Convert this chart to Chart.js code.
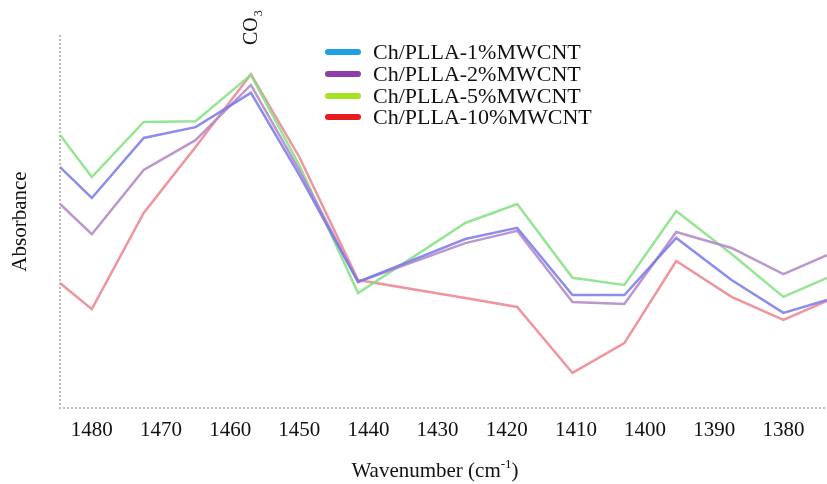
<!DOCTYPE html>
<html lang="en">
<head>
<meta charset="UTF-8">
<title>Absorbance vs wavenumber</title>
<script src="https://cdn.jsdelivr.net/npm/chart.js"></script>
<style>
    html, body { margin: 0; padding: 0; background: #ffffff; }
    #wrap { width: 827px; height: 484px; position: relative; }
</style>
</head>
<body>
<div id="wrap"><canvas id="ftir"></canvas></div>
<script>
    // wavenumbers of the polyline vertices (cm-1)
    const wavenumbers = [1484.6, 1480, 1472.5, 1465, 1457, 1450, 1441.5, 1426, 1418.5, 1410.5, 1403, 1395.5, 1387.5, 1380, 1373.7];
    // absorbance, arbitrary units
    const mw1  = [64.6, 56.3, 72.4, 75.3, 84.5, 62.5, 33.8, 45.3, 48.3, 30.3, 30.3, 45.6, 34.3, 25.5, 29.0];
    const mw2  = [54.7, 46.6, 63.8, 71.8, 86.6, 63.8, 33.8, 44.2, 47.5, 28.4, 27.9, 47.2, 42.9, 35.9, 41.0];
    const mw5  = [73.2, 61.9, 76.7, 76.9, 89.3, 65.1, 30.8, 49.6, 54.7, 34.9, 33.0, 52.8, 41.3, 29.8, 34.9];
    const mw10 = [33.5, 26.5, 52.3, 70.0, 89.5, 67.3, 34.3, 29.5, 27.1, 9.4, 17.4, 39.4, 29.8, 23.6, 28.7];
    const xTicks = [1480, 1470, 1460, 1450, 1440, 1430, 1420, 1410, 1400, 1390, 1380];

    const labels = ['Ch/PLLA-1%MWCNT', 'Ch/PLLA-2%MWCNT', 'Ch/PLLA-5%MWCNT', 'Ch/PLLA-10%MWCNT'];
    const lineColors = ['rgba(120,120,235,0.85)', 'rgba(180,140,200,0.9)', 'rgba(130,225,130,0.85)', 'rgba(235,130,140,0.85)'];
    const keyColors = ['#1e9fe0', '#8d3fa8', '#a8e024', '#e61c1e'];

    const serif = '"Liberation Serif", "Times New Roman", serif';

    function pts(ys) {
        return wavenumbers.map((w, i) => ({ x: w, y: ys[i] }));
    }

    // dotted grey axes like the scanned figure
    const dottedAxes = {
        id: 'dottedAxes',
        beforeDatasetsDraw(chart) {
            const { ctx, chartArea: a } = chart;
            ctx.save();
            ctx.strokeStyle = '#bdbdbd';
            ctx.lineWidth = 2;
            ctx.setLineDash([2, 2]);
            ctx.beginPath();
            ctx.moveTo(a.left, a.top);
            ctx.lineTo(a.left, a.bottom);
            ctx.lineTo(a.right, a.bottom);
            ctx.stroke();
            ctx.restore();
        }
    };

    // legend, CO3 mark and x title with superscript
    const extras = {
        id: 'extras',
        afterDraw(chart) {
            const ctx = chart.ctx;
            ctx.save();
            // legend
            const rows = [52, 74, 96, 117];
            ctx.lineCap = 'round';
            ctx.lineWidth = 6;
            ctx.font = '22px ' + serif;
            ctx.textBaseline = 'middle';
            ctx.fillStyle = '#111';
            labels.forEach((t, i) => {
                ctx.strokeStyle = keyColors[i];
                ctx.beginPath();
                ctx.moveTo(328, rows[i]);
                ctx.lineTo(358, rows[i]);
                ctx.stroke();
                ctx.fillText(t, 373, rows[i] + 1);
            });

            // CO3 label
            ctx.save();
            ctx.translate(257, 45);
            ctx.rotate(-Math.PI / 2);
            ctx.textBaseline = 'alphabetic';
            ctx.font = '20px ' + serif;
            ctx.fillText('CO', 0, 0);
            const w = ctx.measureText('CO').width;
            ctx.font = '12px ' + serif;
            ctx.fillText('3', w + 1, 5);
            ctx.restore();

            // x title
            ctx.textBaseline = 'alphabetic';
            ctx.font = '21px ' + serif;
            const a = 'Wavenumber (cm', b = '-1', c = ')';
            const wa = ctx.measureText(a).width;
            const wc = ctx.measureText(c).width;
            ctx.font = '13px ' + serif;
            const wb = ctx.measureText(b).width;
            let x = 435 - (wa + wb + wc) / 2;
            const y = 477;
            ctx.font = '21px ' + serif;
            ctx.fillText(a, x, y);
            ctx.font = '13px ' + serif;
            ctx.fillText(b, x + wa, y - 9);
            ctx.font = '21px ' + serif;
            ctx.fillText(c, x + wa + wb, y);
            ctx.restore();
        }
    };

    new Chart(document.getElementById('ftir'), {
        type: 'line',
        data: {
            datasets: [
                { label: labels[0], data: pts(mw1), borderColor: lineColors[0] },
                { label: labels[1], data: pts(mw2), borderColor: lineColors[1] },
                { label: labels[2], data: pts(mw5), borderColor: lineColors[2] },
                { label: labels[3], data: pts(mw10), borderColor: lineColors[3] }
            ]
        },
        options: {
            responsive: true,
            maintainAspectRatio: false,
            animation: false,
            layout: { padding: { top: 35, right: 0, left: 0, bottom: 0 } },
            elements: {
                line: { borderWidth: 2.5, tension: 0 },
                point: { radius: 0 }
            },
            plugins: {
                legend: { display: false },
                tooltip: { enabled: false }
            },
            scales: {
                x: {
                    type: 'linear',
                    reverse: true,
                    min: 1373.7,
                    max: 1484.6,
                    afterBuildTicks: s => { s.ticks = xTicks.map(v => ({ value: v })); },
                    afterFit: s => { s.height = 76; },
                    grid: { display: false, drawTicks: false },
                    border: { display: false },
                    ticks: {
                        color: '#111',
                        padding: 10,
                        maxRotation: 0,
                        font: { family: serif, size: 21 },
                        callback: v => String(v)
                    }
                },
                y: {
                    min: 0,
                    max: 100,
                    afterFit: s => { s.width = 60; },
                    grid: { display: false, drawTicks: false },
                    border: { display: false },
                    ticks: { display: false },
                    title: {
                        display: true,
                        text: 'Absorbance',
                        color: '#111',
                        padding: { top: 8, bottom: 0 },
                        font: { family: serif, size: 21 }
                    }
                }
            }
        },
        plugins: [dottedAxes, extras]
    });
</script>
</body>
</html>
